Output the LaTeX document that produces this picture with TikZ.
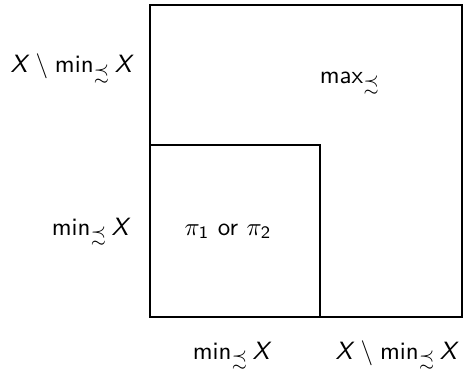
\documentclass[tikz,border=0pt]{standalone}
\usepackage{amssymb}
\newcommand{\sX}{\textsf{\itshape X}}
\newcommand{\smin}{\mathop{\textsf{min}}\nolimits}
\newcommand{\smax}{\mathop{\textsf{max}}\nolimits}
\newcommand{\ssm}{\mskip2mu\setminus\mskip1mu}
\tikzset{lab/.style={anchor=base, inner sep=0pt, scale=2.5, transform shape}}
\begin{document}
\begin{tikzpicture}[x=1pt,y=1pt]
\useasboundingbox (0,0) rectangle (465,370);
\draw[line width=1.2pt] (150,53) rectangle (462,365);
\draw[line width=1.2pt] (150,53) rectangle (320,225);
\node[lab] (tl) at (71,297) {$\sX\ssm\smin_{\precsim}\sX$};
\node[lab] (mx) at (350,286) {$\smax_{\precsim}$};
\node[lab] (ml) at (90,135) {$\smin_{\precsim}\sX$};
\node[lab] (pi) at (228,135) {$\pi_{\mathsf{1}}$ \textsf{or} $\pi_{\mathsf{2}}$};
\node[lab] (b1) at (231,11) {$\smin_{\precsim}\sX$};
\node[lab] (b2) at (396,11) {$\sX\ssm\smin_{\precsim}\sX$};
\end{tikzpicture}
\end{document}
